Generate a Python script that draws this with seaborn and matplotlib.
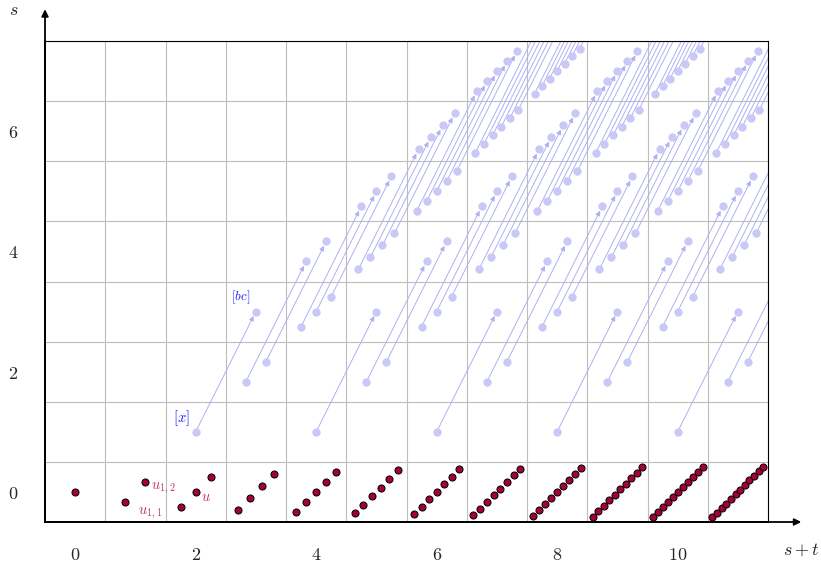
import numpy as np
import pandas as pd
import matplotlib
matplotlib.use("Agg")
import matplotlib.pyplot as plt
import seaborn as sns
from matplotlib.patches import FancyArrowPatch

# --- data ---
# row s = 0: number of u-classes sitting in each column s+t
base_cols = [0, 1, 2, 3, 4, 5, 6, 7, 8, 9, 10, 11]
base_counts = [1, 2, 3, 4, 5, 6, 7, 8, 9, 10, 11, 12]

# source cells (column s+t, row s, number of classes); each class is hit
# by the map that goes one column right and two rows up
src_cols = [2, 4, 6, 8, 10,
            3, 5, 7, 9, 11,
            4, 6, 8, 10,
            5, 7, 9, 11,
            6, 8, 10,
            7, 9, 11,
            8, 10]
src_rows = [1, 1, 1, 1, 1,
            2, 2, 2, 2, 2,
            3, 3, 3, 3,
            4, 4, 4, 4,
            5, 5, 5,
            6, 6, 6,
            7, 7]
src_counts = [1, 1, 1, 1, 1,
              2, 2, 2, 2, 2,
              3, 3, 3, 3,
              4, 4, 4, 4,
              5, 5, 5,
              6, 6, 6,
              7, 7]
map_shift = (1, 2)

x_ticks = [0, 2, 4, 6, 8, 10]
y_ticks = [0, 2, 4, 6]

CRIMSON = "#a3003c"
LABEL_RED = "#c2306a"
BLUE_DOT = "#c9c9f7"
BLUE_LINE = "#b0b0f2"
BLUE_TXT = "#1a1aff"


def spread(col, row, k):
    # k classes in one cell, laid out along the cell diagonal
    off = np.arange(1, k + 1) / (k + 1) - 0.5
    return col + off, row + off


rows = []
for c, k in zip(base_cols, base_counts):
    xs, ys = spread(c, 0, k)
    rows += [("u", x, y) for x, y in zip(xs, ys)]
base = pd.DataFrame(rows, columns=["kind", "x", "y"])

src, tgt = [], []
for c, r, k in zip(src_cols, src_rows, src_counts):
    xs, ys = spread(c, r, k)
    for x, y in zip(xs, ys):
        src.append((x, y))
        tgt.append((x + map_shift[0], y + map_shift[1]))
blue = pd.DataFrame(src + tgt, columns=["x", "y"])

# --- plot ---
sns.set_style("white")
plt.rcParams["mathtext.fontset"] = "cm"
plt.rcParams["font.family"] = ["DejaVu Serif"]

fig = plt.figure(figsize=(8.21, 5.67), dpi=100)
ax = fig.add_axes([45 / 821, 45 / 567, 723 / 821, 481 / 567])

for (x0, y0), (x1, y1) in zip(src, tgt):
    arr = FancyArrowPatch((x0, y0), (x1, y1), arrowstyle="-|>",
                          mutation_scale=7, shrinkA=0, shrinkB=3.5,
                          color=BLUE_LINE, lw=0.7, zorder=2)
    ax.add_patch(arr)

sns.scatterplot(data=blue, x="x", y="y", ax=ax, color=BLUE_DOT, s=36,
                linewidth=0, zorder=3, legend=False)
sns.scatterplot(data=base, x="x", y="y", ax=ax, color=CRIMSON, s=26,
                edgecolor="black", linewidth=0.7, zorder=4, legend=False)

ax.set_xlim(-0.5, 11.5)
ax.set_ylim(-0.5, 7.5)
ax.set_xticks(x_ticks)
ax.set_xticklabels([f"${v}$" for v in x_ticks], fontsize=13)
ax.set_yticks(y_ticks)
ax.set_yticklabels([f"${v}$" for v in y_ticks], fontsize=13)
ax.set_xticks(np.arange(-0.5, 11.6, 1), minor=True)
ax.set_yticks(np.arange(-0.5, 7.6, 1), minor=True)
ax.tick_params(which="both", length=0)
ax.tick_params(axis="x", pad=17)
ax.tick_params(axis="y", pad=19)
ax.grid(which="minor", color="#bdbdbd", lw=0.8, zorder=0)
ax.grid(which="major", visible=False)
ax.set_xlabel("")
ax.set_ylabel("")
ax.set_axisbelow(True)

for side in ["top", "right"]:
    ax.spines[side].set_color("black")
    ax.spines[side].set_linewidth(0.8)
for side in ["left", "bottom"]:
    ax.spines[side].set_color("black")
    ax.spines[side].set_linewidth(1.3)

ax.annotate("", xy=(1.046, 0), xytext=(0, 0), xycoords="axes fraction",
            arrowprops=dict(arrowstyle="-|>", lw=1.3, color="black",
                            mutation_scale=10, shrinkA=0, shrinkB=0),
            annotation_clip=False)
ax.annotate("", xy=(0, 1.066), xytext=(0, 0), xycoords="axes fraction",
            arrowprops=dict(arrowstyle="-|>", lw=1.3, color="black",
                            mutation_scale=10, shrinkA=0, shrinkB=0),
            annotation_clip=False)
ax.text(1.046, -0.058, r"$s+t$", transform=ax.transAxes, fontsize=13,
        ha="center", va="center")
ax.text(-0.043, 1.064, r"$s$", transform=ax.transAxes, fontsize=13,
        ha="center", va="center")

# labels on a few classes
u_pts = base[base["x"].between(0.5, 2.5)].reset_index(drop=True)
ax.annotate(r"$u_{1,1}$", (u_pts.x[0], u_pts.y[0]), xytext=(9, -8),
            textcoords="offset points", color=LABEL_RED, fontsize=10.5,
            va="center")
ax.annotate(r"$u_{1,2}$", (u_pts.x[1], u_pts.y[1]), xytext=(4, -5),
            textcoords="offset points", color=LABEL_RED, fontsize=10.5,
            va="center")
ax.annotate(r"$u$", (u_pts.x[3], u_pts.y[3]), xytext=(4, -4),
            textcoords="offset points", color=LABEL_RED, fontsize=10.5,
            va="center")
ax.annotate(r"$[x]$", (src[0][0], src[0][1]), xytext=(-10, 10),
            textcoords="offset points", color=BLUE_TXT, fontsize=10.5,
            ha="center", va="center")
ax.annotate(r"$[bc]$", (tgt[0][0], tgt[0][1]), xytext=(-11, 10),
            textcoords="offset points", color=BLUE_TXT, fontsize=9.5,
            ha="center", va="center")

fig.savefig("out.png", dpi=100)
